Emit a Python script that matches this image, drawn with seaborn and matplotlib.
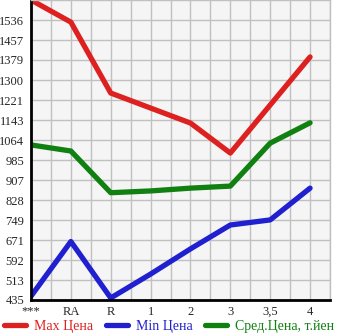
import numpy as np
import pandas as pd
import matplotlib
matplotlib.use('Agg')
import matplotlib.pyplot as plt
import seaborn as sns
from matplotlib.ticker import MultipleLocator

categories = ['***', 'RA', 'R', '1', '2', '3', '3,5', '4']
max_price = [1615, 1528, 1249, 1190, 1131, 1013, 1202, 1391]
min_price = [450, 665, 443, 537, 636, 730, 750, 875]
avg_price = [1045, 1021, 857, 864, 875, 883, 1052, 1132]
y_ticks = [435, 513, 592, 671, 749, 828, 907, 985, 1064, 1143, 1221, 1300, 1379, 1457, 1536]

series_names = ['Max Цена', 'Min Цена', 'Сред.Цена, т.йен']
colors = ['#dd2020', '#2020d0', '#108010']

df = pd.DataFrame({
    'x': list(range(len(categories))) * 3,
    'value': max_price + min_price + avg_price,
    'series': [n for n in series_names for _ in categories],
})

sns.set_style('white')
plt.rcParams['font.family'] = ['Liberation Serif', 'DejaVu Serif']

fig = plt.figure(figsize=(3.45, 3.35), dpi=100)
ax = fig.add_axes([31 / 345, 35 / 335, 299 / 345, 300 / 335])
ax.set_facecolor('#f5f5f5')

sns.lineplot(data=df, x='x', y='value', hue='series', palette=colors,
             linewidth=3.8, ax=ax, legend=False, solid_capstyle='round')

ax.set_xlim(0, 7.5)
ax.set_ylim(435, 1615)
ax.set_xticks(range(len(categories)))
ax.set_xticklabels(categories)
ax.xaxis.set_minor_locator(MultipleLocator(0.5))
ax.set_yticks(y_ticks)
ax.set_yticklabels([str(v) for v in y_ticks])

ax.grid(True, which='both', color='#c0c0c0', linewidth=1)
ax.set_axisbelow(True)
ax.set_xlabel('')
ax.set_ylabel('')

for s in ['top', 'right']:
    ax.spines[s].set_color('#c0c0c0')
    ax.spines[s].set_linewidth(1)
for s in ['left', 'bottom']:
    ax.spines[s].set_color('black')
    ax.spines[s].set_linewidth(2)

ax.tick_params(axis='both', which='both', direction='out', length=4, width=1,
               color='black', labelsize=9, pad=1)
ax.tick_params(axis='x', which='major', pad=0)

handles = [plt.Line2D([0], [0], color=c, linewidth=3.8, solid_capstyle='round')
           for c in colors]
leg = fig.legend(handles, series_names, loc='lower left', ncol=3,
                 bbox_to_anchor=(0.0, -0.005), frameon=False, fontsize=10,
                 handlelength=1.6, handletextpad=0.55, columnspacing=0.9,
                 borderpad=0.2, borderaxespad=0.1)
for t, c in zip(leg.get_texts(), colors):
    t.set_color(c)

fig.savefig('out.png', dpi=100)
